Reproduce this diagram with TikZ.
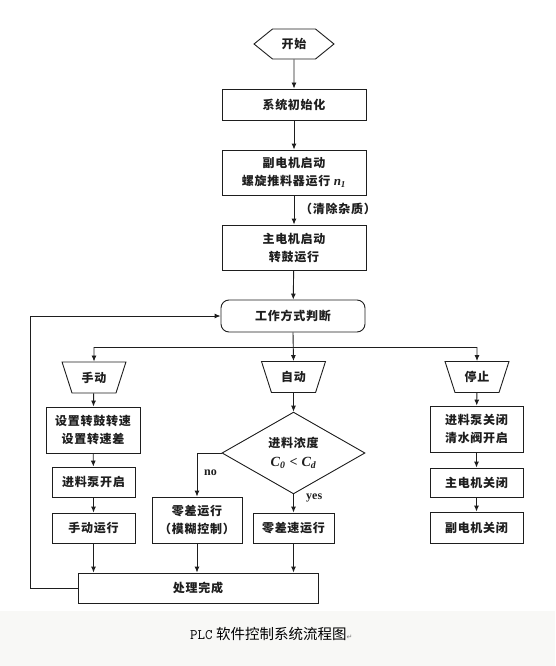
\documentclass[tikz,border=0pt]{standalone}
\usepackage{fontspec}
\setmainfont{Liberation Serif}
\newfontfamily\cjk{Noto Sans CJK SC}[LetterSpace=6]
\newfontfamily\cjkcap{Noto Sans CJK SC}
\newfontfamily\symf{DejaVu Sans}
\newcommand{\bivar}[2]{{\rmfamily\bfseries\itshape #1\textsubscript{#2}}}
\usetikzlibrary{shapes.geometric,shapes.symbols,arrows.meta}
\definecolor{ln}{RGB}{30,30,30}
\definecolor{capbg}{RGB}{248,248,246}
\tikzset{
  every node/.style={font=\cjk\bfseries\fontsize{12}{18}\selectfont, text=ln},
  box/.style={draw=ln, line width=0.9pt, rectangle, align=center, inner sep=0pt},
  tbox/.style={draw=ln, line width=0.9pt, trapezium, shape border rotate=180,
    trapezium left angle=64, trapezium right angle=64, trapezium stretches=true,
    minimum width=64pt, minimum height=31pt, inner sep=0pt},
  conn/.style={draw=ln, line width=0.9pt},
  arr/.style={conn, -{Latex[length=6pt,width=5pt]}},
  lbl/.style={font=\rmfamily\bfseries\fontsize{12}{14}\selectfont}
}
\begin{document}
\begin{tikzpicture}[x=1pt,y=-1pt]
\useasboundingbox (0,0) rectangle (555,666);
\fill[white] (0,0) rectangle (555,611);
\fill[capbg] (0,611) rectangle (555,666);

\node[draw=ln, line width=0.9pt, signal, signal to=west and east, signal pointer angle=78,
  minimum width=80pt, minimum height=30pt, inner sep=0pt] (start) at (294,44) {开始};
\node[box, minimum width=144pt, minimum height=31pt] (init) at (294,104.5) {系统初始化};
\node[box, minimum width=144pt, minimum height=45pt] (sub) at (294,172.5) {副电机启动\\螺旋推料器运行 {\fontsize{13}{13}\selectfont\bivar{n}{1}}};
\node[box, minimum width=144pt, minimum height=45pt] (main) at (294,247.5) {主电机启动\\转鼓运行};
\node[box, rounded corners=8pt, minimum width=144pt, minimum height=32pt] (mode) at (293,316) {工作方式判断};

\node[tbox] (manual) at (94,377.5) {手动};
\node[tbox] (auto) at (293.5,377) {自动};
\node[tbox] (stop) at (477,377) {停止};

\node[box, minimum width=94pt, minimum height=46pt] (set) at (93,430) {设置转鼓转速\\设置转速差};
\node[box, minimum width=83pt, minimum height=30pt] (feed) at (93.5,482) {进料泵开启};
\node[box, minimum width=83pt, minimum height=30pt] (manrun) at (93.5,528) {手动运行};

\node[draw=ln, line width=0.9pt, diamond, minimum width=143pt, minimum height=59pt, inner sep=0pt,
  align=center] (dia) at (293.5,453) {进料浓度\\[1pt]{\fontsize{14}{14}\selectfont\bivar{C}{0} {\rmfamily\bfseries <} \bivar{C}{d}}};
\node[box, minimum width=90pt, minimum height=46pt] (zero) at (197,520) {零差运行\\（模糊控制）};
\node[box, minimum width=81pt, minimum height=30pt] (zspd) at (293.5,528) {零差速运行};

\node[box, minimum width=240pt, minimum height=30pt] (done) at (198,588) {处理完成};

\node[box, minimum width=93pt, minimum height=46pt] (s1) at (476.5,429) {进料泵关闭\\清水阀开启};
\node[box, minimum width=93pt, minimum height=29pt] (s2) at (476.5,482.5) {主电机关闭};
\node[box, minimum width=93pt, minimum height=31pt] (s3) at (476.5,527.5) {副电机关闭};

\node[anchor=west, inner sep=0pt] (clean) at (300,209) {（清除杂质）};
\node[lbl, anchor=west, inner sep=0pt] (no) at (204,473) {no};
\node[lbl, anchor=west, inner sep=0pt] (yes) at (306,498) {yes};

\coordinate (bl) at (94,347);
\coordinate (br) at (477,347);
\coordinate (fb) at (30,588);

\draw[arr] (start) -- (init);
\draw[arr] (init) -- (sub);
\draw[arr] (sub) -- (main);
\draw[arr] (main) -- (mode);
\draw[arr] (mode.south) -- (auto.north);
\draw[conn] (bl) -- (br);
\draw[arr] (bl) -- (manual.north);
\draw[arr] (br) -- (stop.north);
\draw[arr] (manual) -- (set);
\draw[arr] (set) -- (feed);
\draw[arr] (feed) -- (manrun);
\draw[arr] (auto) -- (dia);
\draw[arr] (dia.west) -| (zero.north);
\draw[arr] (dia.south) -- (zspd.north);
\draw[arr] (stop) -- (s1);
\draw[arr] (s1) -- (s2);
\draw[arr] (s2) -- (s3);
\draw[arr] (manrun.south) -- (manrun.south |- done.north);
\draw[arr] (zero.south) -- (zero.south |- done.north);
\draw[arr] (zspd.south) -- (zspd.south |- done.north);
\draw[conn] (done.west) -- (fb);
\draw[arr] (fb) |- (mode.west);

\node[anchor=west, inner sep=0pt, font=\fontsize{14.5}{16}\selectfont, text=black] (cap) at (190,634)
  {{\ttfamily PLC} {\cjkcap 软件控制系统流程图}{\symf\fontsize{7}{8}\selectfont\color{gray}↵}};
\end{tikzpicture}
\end{document}
